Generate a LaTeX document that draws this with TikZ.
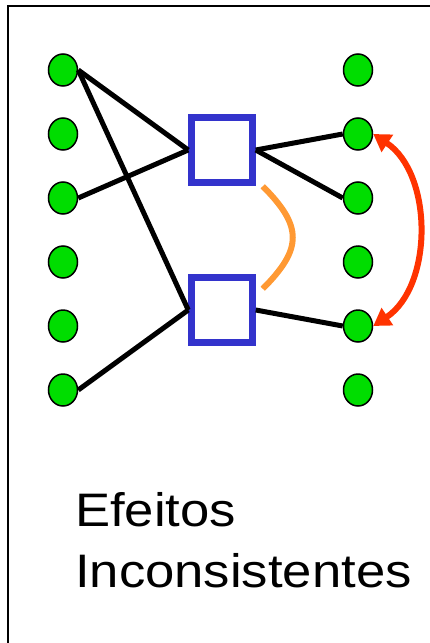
\documentclass[tikz,border=0pt]{standalone}
\usepackage{fontspec}
\setmainfont{Liberation Sans}
\usetikzlibrary{shapes.geometric,arrows.meta}
\definecolor{dotgreen}{RGB}{0,221,0}
\definecolor{boxblue}{RGB}{51,51,204}
\definecolor{linkorange}{RGB}{255,153,51}
\definecolor{arrowred}{RGB}{255,51,0}

\begin{document}
\begin{tikzpicture}[x=1pt, y=-1pt,
  dot/.style={ellipse, draw, line width=1.5pt, fill=dotgreen, minimum width=29pt, minimum height=32pt, inner sep=0pt},
  unit/.style={rectangle, draw=boxblue, line width=7pt, minimum width=60.5pt, minimum height=65.5pt, inner sep=0pt},
  link/.style={line width=5pt, black},
  caption/.style={anchor=base west, inner sep=0pt, font=\fontsize{47}{56}\selectfont, xscale=1.12}]

\useasboundingbox (0,0) rectangle (430,643);
\clip (0,0) rectangle (430,643);

% Frame (runs off at right and bottom)
\draw[line width=2.3pt] (8,6) rectangle (470,690);

% Dots, left and right columns
\foreach \i/\y in {1/70, 2/134, 3/198, 4/262, 5/326, 6/390} {
  \node[dot] (l\i) at (63,\y) {};
  \node[dot] (r\i) at (358,\y) {};
}

% Boxes
\node[unit] (top) at (222,150) {};
\node[unit] (bot) at (222,310) {};

% Links into the boxes
\draw[link] (l1.east) -- (top.west);
\draw[link] (l1.east) -- (bot.west);
\draw[link] (l3.east) -- (top.west);
\draw[link] (l6.east) -- (bot.west);

% Links out of the boxes
\draw[link] (top.east) -- (r2.west);
\draw[link] (top.east) -- (r3.west);
\draw[link] (bot.east) -- (r5.west);

% Orange curve between the boxes
\coordinate (o1) at ([xshift=7pt]top.south east);
\coordinate (o2) at ([shift={(7pt,-15pt)}]bot.north east);
\draw[line width=6pt, linkorange] (o1) .. controls +(40,40) and +(40,-40) .. (o2);

% Red double arrow on the right
\draw[line width=6pt, arrowred, {Triangle[length=17pt,width=20pt]}-{Triangle[length=17pt,width=20pt]}]
  (r2.east) .. controls +(60,40) and +(60,-40) .. (r5.east);

% Caption
\node[caption] (efeitos) at (75,526) {Efeitos};
\node[caption] (incons) at (75,587) {Inconsistentes};

\end{tikzpicture}
\end{document}
